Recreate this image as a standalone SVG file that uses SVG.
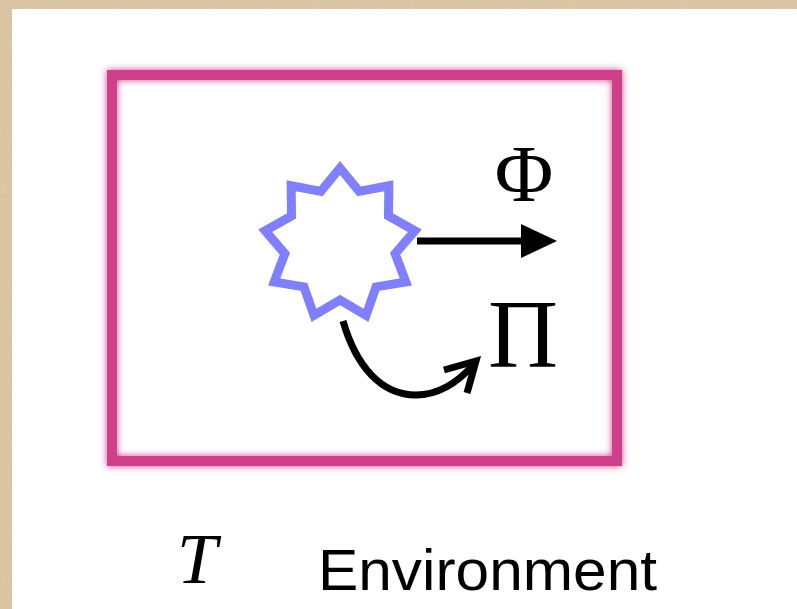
<svg xmlns="http://www.w3.org/2000/svg" width="797" height="609" viewBox="0 0 797 609">
<defs>
<style>
.conn{fill:none;stroke:#000;stroke-width:7}
.lbl{font-family:"Liberation Serif","Times New Roman",serif;fill:#000}
</style>
<filter id="paper" x="0" y="0" width="100%" height="100%">
<feTurbulence type="fractalNoise" baseFrequency="0.08" numOctaves="4" seed="3" result="n"/>
<feColorMatrix in="n" type="matrix" values="0 0 0 0 0.6  0 0 0 0 0.5  0 0 0 0 0.35  0 0 0 0.5 -0.1" result="c"/>
<feComposite in="c" in2="SourceGraphic" operator="atop"/>
</filter>
<filter id="glow" x="-10%" y="-10%" width="120%" height="120%">
<feGaussianBlur in="SourceGraphic" stdDeviation="3.5" result="b"/>
<feMerge><feMergeNode in="b"/><feMergeNode in="SourceGraphic"/></feMerge>
</filter>
</defs>
<rect x="0" y="0" width="797" height="609" fill="#dcc7a3" filter="url(#paper)"/>
<rect x="12" y="9" width="785" height="600" fill="#fff"/>
<g id="environment-box">
<rect x="112" y="75" width="505" height="386" fill="none" stroke="#d0408a" stroke-width="10" filter="url(#glow)"/>
</g>
<g id="star">
<polygon fill="#fff" stroke="#8080ff" stroke-width="9" stroke-linejoin="miter" stroke-miterlimit="10" points="340,168 359.15,191.38 388.85,185.78 388.5,216 414.85,230.8 395.15,253.72 405.82,282 376,286.9 366,315.42 340,300 314,315.42 304,286.9 274.18,282 284.85,253.72 265.15,230.8 291.5,216 291.15,185.78 320.85,191.38"/>
</g>
<g id="connectors">
<path class="conn" d="M417,241 L526,241"/>
<path d="M521,224 L557,241 L521,258 z" fill="#000"/>
<path class="conn" d="M343,321 C356,366 381,395 416,395 C440,395 460,380 474,364"/>
<path class="conn" d="M444,370 L476,361 L467,393" stroke-linejoin="miter"/>
</g>
<g id="label-phi"><text class="lbl" x="524" y="201" font-size="80" text-anchor="middle">Φ</text></g>
<g id="label-pi"><text class="lbl" x="523" y="367" font-size="97" text-anchor="middle">Π</text></g>
<g id="label-T"><text class="lbl" x="197" y="583" font-size="72" font-style="italic" text-anchor="middle">T</text></g>
<g id="label-environment"><text x="318" y="590" font-family="Liberation Sans, Arial, sans-serif" font-size="58" textLength="339" lengthAdjust="spacingAndGlyphs" fill="#000">Environment</text></g>
</svg>
